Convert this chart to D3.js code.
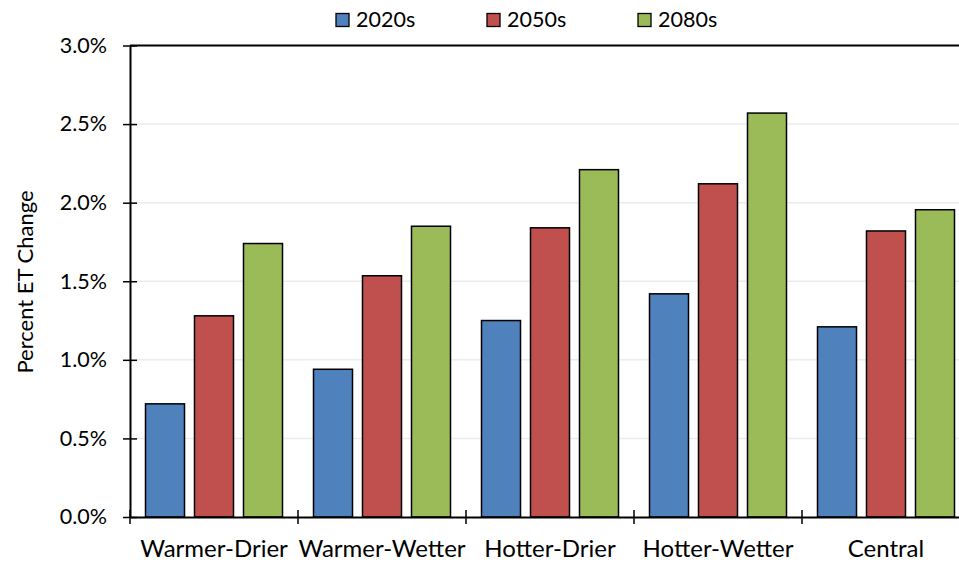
<!DOCTYPE html>
<html>
<head>
<meta charset="utf-8">
<script src="https://cdn.jsdelivr.net/npm/d3@7"></script>
<style>
  body { margin: 0; background: #fff; }
  text { font-family: Lato, "Open Sans", sans-serif; fill: #000; }
</style>
</head>
<body>
<div id="chart"></div>
<script>
// --- DATA ---
const categories = ["Warmer-Drier", "Warmer-Wetter", "Hotter-Drier", "Hotter-Wetter", "Central"];
const seriesNames = ["2020s", "2050s", "2080s"];
const values2020s = [0.72, 0.94, 1.25, 1.42, 1.21];
const values2050s = [1.28, 1.535, 1.84, 2.12, 1.82];
const values2080s = [1.74, 1.85, 2.21, 2.57, 1.955];
const yTicks = [0, 0.5, 1.0, 1.5, 2.0, 2.5, 3.0];
const colors = ["#4F81BD", "#C0504D", "#9BBB59"];

const seriesValues = [values2020s, values2050s, values2080s];
const rows = categories.map((c, i) => ({
    category: c,
    values: seriesNames.map((s, j) => ({ series: s, value: seriesValues[j][i] }))
}));

// --- SETUP ---
const width = 959, height = 562;
const margin = { top: 45.5, left: 130, bottom: 517, right: 970 };

const svg = d3.select("#chart").append("svg")
    .attr("width", width)
    .attr("height", height);

const x0 = d3.scaleBand()
    .domain(categories)
    .range([margin.left, margin.right])
    .padding(0);

const x1 = d3.scaleBand()
    .domain(seriesNames)
    .range([15.5, x0.bandwidth() - 15.5])
    .paddingInner(0.204)
    .paddingOuter(0);

const y = d3.scaleLinear()
    .domain([0, 3.0])
    .range([margin.bottom, margin.top]);

const color = d3.scaleOrdinal().domain(seriesNames).range(colors);

// Gridlines
svg.append("g")
    .selectAll("line")
    .data(yTicks.filter(d => d > 0 && d < 3))
    .enter().append("line")
    .attr("x1", margin.left)
    .attr("x2", width)
    .attr("y1", d => y(d))
    .attr("y2", d => y(d))
    .attr("stroke", "#ececec")
    .attr("stroke-width", 1.5);

// Top frame
svg.append("line")
    .attr("x1", margin.left).attr("x2", width)
    .attr("y1", y(3)).attr("y2", y(3))
    .attr("stroke", "#000").attr("stroke-width", 2);

// Bars
const groups = svg.append("g")
    .selectAll("g")
    .data(rows)
    .enter().append("g")
    .attr("transform", d => `translate(${x0(d.category)},0)`);

groups.selectAll("rect")
    .data(d => d.values)
    .enter().append("rect")
    .attr("x", d => x1(d.series))
    .attr("y", d => y(d.value))
    .attr("width", x1.bandwidth())
    .attr("height", d => y(0) - y(d.value))
    .attr("fill", d => color(d.series))
    .attr("stroke", "#000")
    .attr("stroke-width", 1.5);

// Y axis
const yAxis = svg.append("g")
    .attr("transform", `translate(${margin.left},0)`)
    .call(d3.axisLeft(y).tickValues(yTicks).tickFormat(d => d.toFixed(1) + "%").tickSize(7).tickSizeOuter(0));
yAxis.select(".domain").attr("stroke-width", 2);
yAxis.selectAll(".tick line").attr("x2", 7).attr("x1", -7).attr("stroke-width", 1.5);
yAxis.selectAll(".tick text")
    .attr("x", -23)
    .style("font-size", "21.5px")
    .style("font-family", "Lato, sans-serif");

// X axis
const xAxis = svg.append("g")
    .attr("transform", `translate(0,${margin.bottom})`)
    .call(d3.axisBottom(x0).tickSize(0).tickSizeOuter(0));
xAxis.select(".domain").attr("stroke-width", 2);
xAxis.selectAll(".tick text")
    .attr("y", 40)
    .attr("dy", 0)
    .style("font-size", "24px")
    .style("font-family", "Lato, sans-serif");

// Category boundary ticks
svg.append("g")
    .selectAll("line")
    .data(categories)
    .enter().append("line")
    .attr("x1", d => x0(d))
    .attr("x2", d => x0(d))
    .attr("y1", margin.bottom - 7)
    .attr("y2", margin.bottom + 7)
    .attr("stroke", "#000")
    .attr("stroke-width", 1.5);

// Y title
svg.append("text")
    .attr("transform", `translate(33,282) rotate(-90)`)
    .attr("text-anchor", "middle")
    .style("font-size", "22px")
    .text("Percent ET Change");

// Legend
const legend = svg.append("g")
    .selectAll("g")
    .data(seriesNames)
    .enter().append("g")
    .attr("transform", (d, i) => `translate(${336 + i * 151},13.5)`);

legend.append("rect")
    .attr("width", 13).attr("height", 13)
    .attr("fill", d => color(d))
    .attr("stroke", "#000")
    .attr("stroke-width", 1.3);

legend.append("text")
    .attr("x", 20)
    .attr("y", 13.5)
    .style("font-size", "21.5px")
    .text(d => d);
</script>
</body>
</html>
